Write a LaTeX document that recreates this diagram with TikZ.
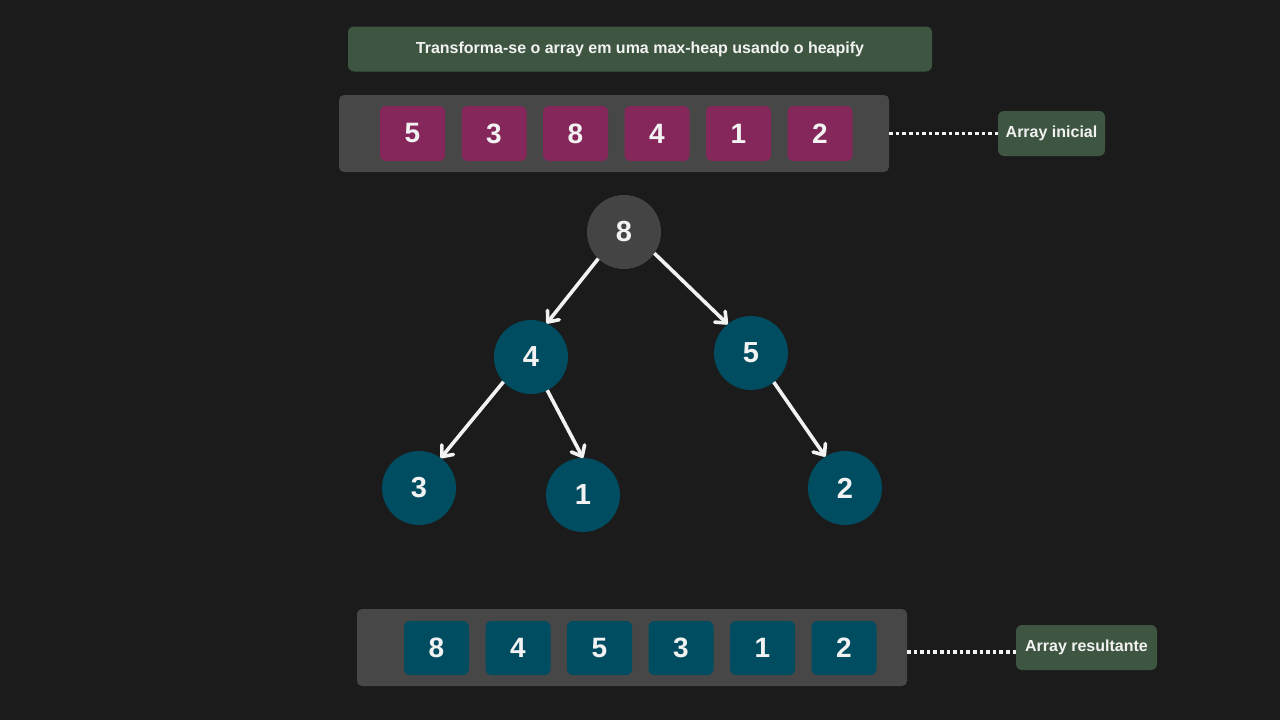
\documentclass[tikz,border=0pt]{standalone}
\usepackage{fontspec}
\setmainfont{Liberation Sans}
\usetikzlibrary{arrows.meta}
\definecolor{bgc}{HTML}{1B1B1B}
\definecolor{greenbox}{HTML}{3E5641}
\definecolor{magcell}{HTML}{85275A}
\definecolor{tealc}{HTML}{004D61}
\definecolor{contc}{HTML}{474747}
\definecolor{rootc}{HTML}{444444}
\definecolor{txt}{HTML}{F2F2F2}
\tikzset{
  greenlabel/.style={fill=greenbox, rounded corners=6pt, text=txt, font=\bfseries\fontsize{16}{18}\selectfont, inner sep=0pt, anchor=center},
  container/.style={fill=contc, rounded corners=5pt},
  cellbox/.style={rounded corners=6pt, minimum width=65pt, minimum height=55pt, inner sep=0pt, text=txt, font=\bfseries\fontsize{28}{30}\selectfont},
  magbox/.style={cellbox, fill=magcell},
  tealbox/.style={cellbox, fill=tealc},
  treenode/.style={circle, minimum size=74pt, inner sep=0pt, outer sep=0pt, text=txt, font=\bfseries\fontsize{29}{32}\selectfont},
  tealnode/.style={treenode, fill=tealc},
  rootnode/.style={treenode, fill=rootc},
  edge/.style={draw=txt, line width=3.6pt, -{Straight Barb[length=9pt,width=15pt,line width=3.6pt,round]}},
  dotline/.style={draw=txt, line width=3.6pt, dash pattern=on 3.6pt off 3pt}
}
\begin{document}
\begin{tikzpicture}[x=1pt,y=-1pt]
\fill[bgc] (0,0) rectangle (1280,720);
\useasboundingbox (0,0) rectangle (1280,720);

% title
\node[greenlabel, minimum width=584pt, minimum height=45pt] (title) at (640,49) {Transforma-se o array em uma max-heap usando o heapify};

% top array
\node[container, minimum width=550pt, minimum height=77pt, inner sep=0pt] (toparr) at (614,133.5) {};
\node[magbox] (t1) at (412.5,133.5) {5};
\node[magbox] (t2) at (494,133.5) {3};
\node[magbox] (t3) at (575.5,133.5) {8};
\node[magbox] (t4) at (657,133.5) {4};
\node[magbox] (t5) at (738.5,133.5) {1};
\node[magbox] (t6) at (820,133.5) {2};
\node[greenlabel, minimum width=107pt, minimum height=45pt] (lbl1) at (1051.5,133.5) {Array inicial};
\draw[dotline] (toparr.east) -- (lbl1.west);

% tree
\node[rootnode] (n8) at (624,232) {8};
\node[tealnode] (n4) at (531,357) {4};
\node[tealnode] (n5) at (751,353) {5};
\node[tealnode] (n3) at (419,488) {3};
\node[tealnode] (n1) at (583,495) {1};
\node[tealnode] (n2) at (845,488) {2};
\draw[edge] (n8.226) -- (n4.65);
\draw[edge] (n8.-35) -- (n5.129);
\draw[edge] (n4.222) -- (n3.54);
\draw[edge] (n4.-64) -- (n1.90);
\draw[edge] (n5.-52) -- (n2.122);

% bottom array
\node[container, minimum width=550pt, minimum height=77pt, inner sep=0pt] (botarr) at (632,647.5) {};
\node[tealbox, minimum height=54pt] (b1) at (436.5,648) {8};
\node[tealbox, minimum height=54pt] (b2) at (518,648) {4};
\node[tealbox, minimum height=54pt] (b3) at (599.5,648) {5};
\node[tealbox, minimum height=54pt] (b4) at (681,648) {3};
\node[tealbox, minimum height=54pt] (b5) at (762.5,648) {1};
\node[tealbox, minimum height=54pt] (b6) at (844,648) {2};
\node[greenlabel, minimum width=141pt, minimum height=45pt] (lbl2) at (1086.5,647.5) {Array resultante};
\coordinate (bdot) at (907,652);
\draw[dotline] (bdot) -- (lbl2.west |- bdot);
\end{tikzpicture}
\end{document}
